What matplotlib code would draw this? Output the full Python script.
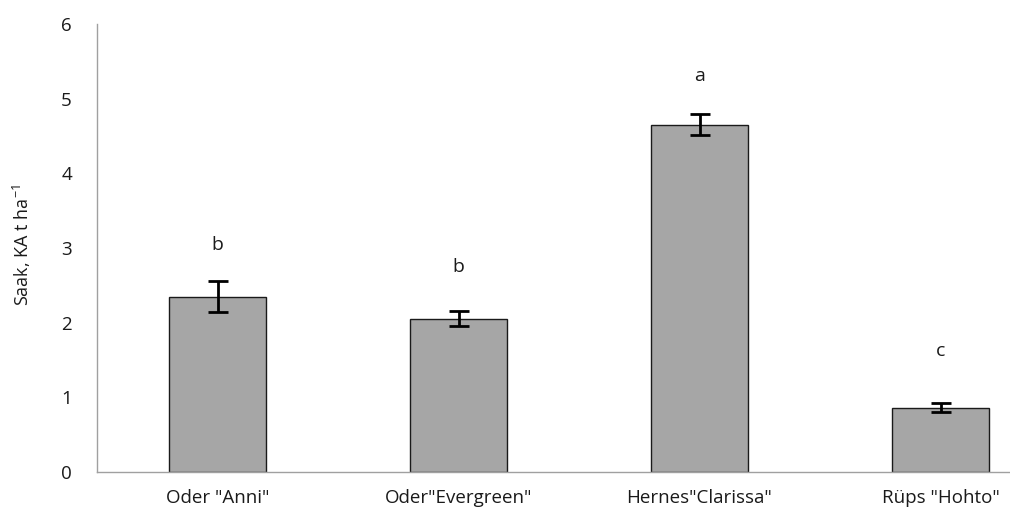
import matplotlib
matplotlib.use("Agg")
import matplotlib.pyplot as plt

categories = ['Oder "Anni"', 'Oder"Evergreen"', 'Hernes"Clarissa"', 'Rüps "Hohto"']
values = [2.35, 2.05, 4.65, 0.86]
errors = [0.21, 0.10, 0.14, 0.06]
letters = ['b', 'b', 'a', 'c']
letter_y = [3.04, 2.75, 5.30, 1.62]
yticks = [0, 1, 2, 3, 4, 5, 6]

plt.rcParams['font.family'] = ['Open Sans', 'DejaVu Sans']

fig = plt.figure(figsize=(10.10, 5.12), dpi=100)
ax = fig.add_axes([97/1010, 1 - 472/512, (1061 - 97)/1010, (472 - 24)/512])

x = list(range(len(categories)))
ax.bar(x, values, width=0.4, color='#A6A6A6', edgecolor='#1a1a1a', linewidth=1.0, zorder=2)
ax.errorbar(x, values, yerr=errors, fmt='none', ecolor='black', elinewidth=2, capsize=7, capthick=2, zorder=3)

for xi, t, ly in zip(x, letters, letter_y):
    ax.text(xi, ly, t, ha='center', va='center', fontsize=14, color='#1a1a1a')

ax.set_xlim(-0.5, 3.5)
ax.set_ylim(0, 6)
ax.set_yticks(yticks)
ax.set_xticks(x)
ax.set_xticklabels(categories, fontsize=13.5, color='#1a1a1a')
ax.set_yticklabels([str(v) for v in yticks], fontsize=13.5, color='#1a1a1a')
ax.tick_params(axis='both', length=0)
ax.tick_params(axis='y', pad=18)
ax.tick_params(axis='x', pad=12)

for s in ['top', 'right']:
    ax.spines[s].set_visible(False)
for s in ['left', 'bottom']:
    ax.spines[s].set_color('#A0A0A0')
    ax.spines[s].set_linewidth(1.0)

fig.text(22/1010, 1 - 245/512, 'Saak, KA t ha$^{\\mathregular{-1}}$', rotation=90,
         ha='center', va='center', fontsize=13, color='#1a1a1a')

fig.savefig('out.png', dpi=100)
